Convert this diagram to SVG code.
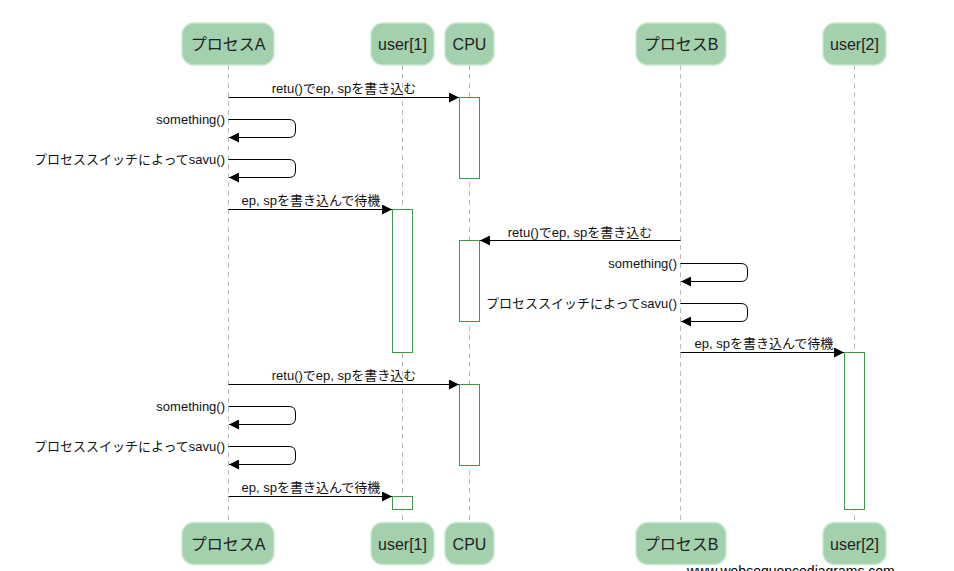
<svg xmlns="http://www.w3.org/2000/svg" width="954" height="571" viewBox="0 0 954 571">
<defs>
<style>
.box{fill:#a3d0ad;stroke:#c9e6cf;stroke-width:1.5}
.pt{font-family:"Liberation Sans","Noto Sans CJK JP",sans-serif;font-size:16px;fill:#222;text-anchor:middle}
.life{stroke:#bbbbbb;stroke-width:1;stroke-dasharray:5,4;fill:none}
.act{fill:#ffffff;stroke:#3d9a4d;stroke-width:1}
.msg{stroke:#000;stroke-width:1;fill:none}
.lbl{font-family:"Liberation Sans","Noto Sans CJK JP",sans-serif;font-size:13px;fill:#111}
.c{text-anchor:middle}
.r{text-anchor:end}
.wm{font-family:"Liberation Sans",sans-serif;font-size:14px;fill:#000}
</style>
<marker id="ah" markerWidth="10" markerHeight="10" refX="10" refY="5" orient="auto" markerUnits="userSpaceOnUse">
<path d="M0,0 L10,5 L0,10 Z" fill="#000"/>
</marker>
</defs>
<rect width="954" height="571" fill="#ffffff"/>

<g id="lifelines">
<line class="life" x1="228.5" y1="65" x2="228.5" y2="523"/>
<line class="life" x1="402.5" y1="65" x2="402.5" y2="523"/>
<line class="life" x1="469.5" y1="65" x2="469.5" y2="523"/>
<line class="life" x1="680.5" y1="65" x2="680.5" y2="523"/>
<line class="life" x1="854.5" y1="65" x2="854.5" y2="523"/>
</g>

<g id="activations">
<rect class="act" x="459.5" y="97.5" width="20" height="81"/>
<rect class="act" x="459.5" y="240.5" width="20" height="81"/>
<rect class="act" x="459.5" y="384.5" width="20" height="81"/>
<rect class="act" x="392.5" y="209.5" width="20" height="143"/>
<rect class="act" x="392.5" y="496.5" width="20" height="13"/>
<rect class="act" x="844.5" y="352.5" width="20" height="157"/>
</g>

<g id="participantA">
<rect class="box" x="182" y="23" width="92" height="42" rx="12"/>
<text class="pt" x="228" y="50">プロセスA</text>
<rect class="box" x="182" y="522.5" width="92" height="42" rx="12"/>
<text class="pt" x="228" y="549.5">プロセスA</text>
</g>
<g id="participantUser1">
<rect class="box" x="371" y="23" width="63" height="42" rx="12"/>
<text class="pt" x="402.5" y="50">user[1]</text>
<rect class="box" x="371" y="522.5" width="63" height="42" rx="12"/>
<text class="pt" x="402.5" y="549.5">user[1]</text>
</g>
<g id="participantCPU">
<rect class="box" x="445" y="23" width="49" height="42" rx="12"/>
<text class="pt" x="469.5" y="50">CPU</text>
<rect class="box" x="445" y="522.5" width="49" height="42" rx="12"/>
<text class="pt" x="469.5" y="549.5">CPU</text>
</g>
<g id="participantB">
<rect class="box" x="636" y="23" width="90" height="42" rx="12"/>
<text class="pt" x="681" y="50">プロセスB</text>
<rect class="box" x="636" y="522.5" width="90" height="42" rx="12"/>
<text class="pt" x="681" y="549.5">プロセスB</text>
</g>
<g id="participantUser2">
<rect class="box" x="823" y="23" width="63" height="42" rx="12"/>
<text class="pt" x="854.5" y="50">user[2]</text>
<rect class="box" x="823" y="522.5" width="63" height="42" rx="12"/>
<text class="pt" x="854.5" y="549.5">user[2]</text>
</g>

<g id="connectors">
<path class="msg" d="M228.5,97.5 H459" marker-end="url(#ah)"/>
<text class="lbl c" x="344" y="93">retu()でep, spを書き込む</text>

<path class="msg" d="M228.5,119.5 H289 Q295.5,119.5 295.5,126 V131 Q295.5,137.5 289,137.5 H229" marker-end="url(#ah)"/>
<text class="lbl r" x="225" y="124">something()</text>

<path class="msg" d="M228.5,159.5 H289 Q295.5,159.5 295.5,166 V171 Q295.5,177.5 289,177.5 H229" marker-end="url(#ah)"/>
<text class="lbl r" x="225" y="164">プロセススイッチによってsavu()</text>

<path class="msg" d="M228.5,209.5 H392" marker-end="url(#ah)"/>
<text class="lbl c" x="311" y="205">ep, spを書き込んで待機</text>

<path class="msg" d="M680.5,240.5 H480" marker-end="url(#ah)"/>
<text class="lbl c" x="580" y="237">retu()でep, spを書き込む</text>

<path class="msg" d="M680.5,263.5 H741 Q747.5,263.5 747.5,270 V275 Q747.5,281.5 741,281.5 H681" marker-end="url(#ah)"/>
<text class="lbl r" x="677" y="268">something()</text>

<path class="msg" d="M680.5,303.5 H741 Q747.5,303.5 747.5,310 V315 Q747.5,321.5 741,321.5 H681" marker-end="url(#ah)"/>
<text class="lbl r" x="677" y="308">プロセススイッチによってsavu()</text>

<path class="msg" d="M680.5,352.5 H844" marker-end="url(#ah)"/>
<text class="lbl c" x="764" y="348">ep, spを書き込んで待機</text>

<path class="msg" d="M228.5,384.5 H459" marker-end="url(#ah)"/>
<text class="lbl c" x="344" y="380">retu()でep, spを書き込む</text>

<path class="msg" d="M228.5,406.5 H289 Q295.5,406.5 295.5,413 V418 Q295.5,424.5 289,424.5 H229" marker-end="url(#ah)"/>
<text class="lbl r" x="225" y="411">something()</text>

<path class="msg" d="M228.5,446.5 H289 Q295.5,446.5 295.5,453 V458 Q295.5,464.5 289,464.5 H229" marker-end="url(#ah)"/>
<text class="lbl r" x="225" y="451">プロセススイッチによってsavu()</text>

<path class="msg" d="M228.5,496.5 H392" marker-end="url(#ah)"/>
<text class="lbl c" x="311" y="492">ep, spを書き込んで待機</text>
</g>

<text class="wm" x="687" y="576">www.websequencediagrams.com</text>
</svg>
